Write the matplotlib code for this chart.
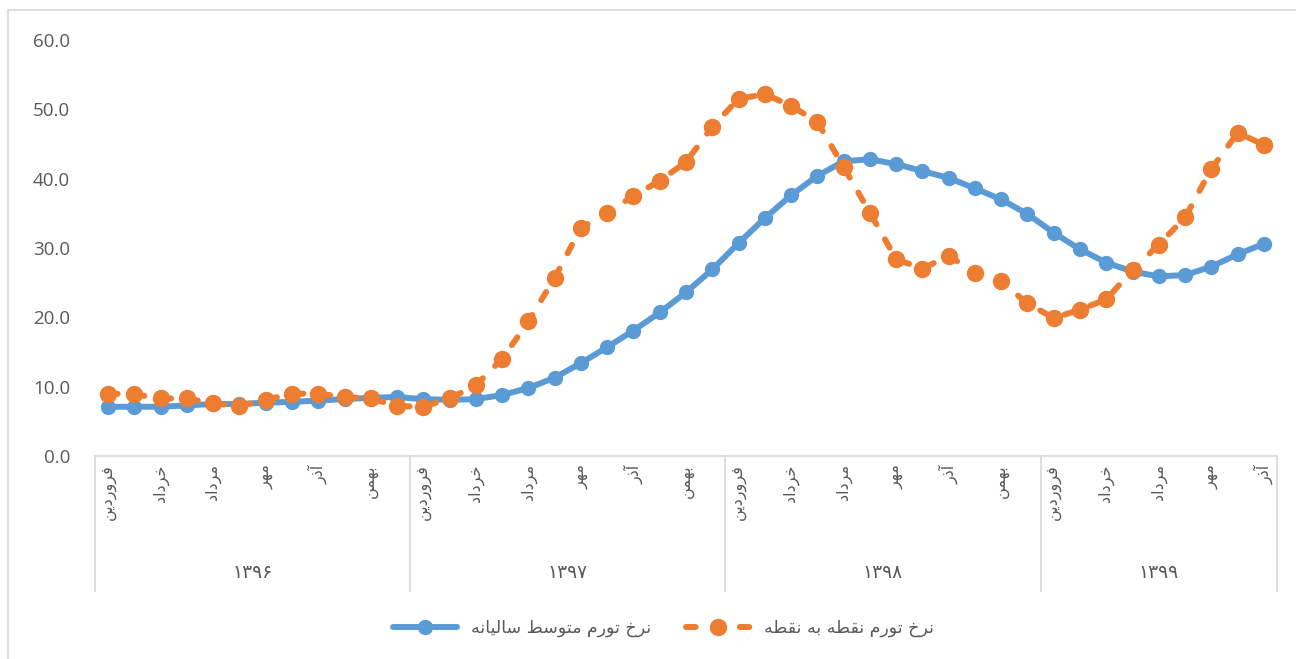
import matplotlib
matplotlib.use("Agg")
import matplotlib.pyplot as plt
from matplotlib.lines import Line2D
from matplotlib.transforms import blended_transform_factory
import numpy as np

# Monthly inflation, 1396 to Azar 1399
years = ["۱۳۹۶", "۱۳۹۷", "۱۳۹۸", "۱۳۹۹"]
months_per_year = [12, 12, 12, 9]
month_names = ["فروردین", "اردیبهشت", "خرداد", "تیر", "مرداد", "شهریور",
               "مهر", "آبان", "آذر", "دی", "بهمن", "اسفند"]

annual_avg = [7.1, 7.1, 7.1, 7.3, 7.5, 7.5, 7.7, 7.8, 8.0, 8.2, 8.4, 8.5,
              8.2, 8.1, 8.2, 8.8, 9.8, 11.3, 13.4, 15.7, 18.1, 20.7, 23.6, 26.9,
              30.7, 34.3, 37.6, 40.4, 42.5, 42.8, 42.1, 41.1, 40.1, 38.6, 37.0, 34.9,
              32.2, 29.8, 27.9, 26.6, 25.9, 26.1, 27.3, 29.1, 30.6]
point_to_point = [9.0, 8.9, 8.3, 8.3, 7.6, 7.2, 8.1, 9.0, 9.0, 8.5, 8.3, 7.2,
                  7.1, 8.3, 10.2, 14.0, 19.4, 25.7, 32.9, 35.1, 37.5, 39.7, 42.4, 47.5,
                  51.5, 52.2, 50.5, 48.2, 41.7, 35.1, 28.4, 27.0, 28.9, 26.4, 25.2, 22.0,
                  19.9, 21.1, 22.6, 26.8, 30.5, 34.4, 41.4, 46.6, 44.9]

label_avg = "نرخ تورم متوسط سالیانه"
label_p2p = "نرخ تورم نقطه به نقطه"

# matplotlib has no Arabic shaping, so pick contextual forms by hand
FORMS = {
    "ا": ("\uFE8D", "\uFE8E", None, None),
    "آ": ("\uFE81", "\uFE82", None, None),
    "ب": ("\uFE8F", "\uFE90", "\uFE91", "\uFE92"),
    "ت": ("\uFE95", "\uFE96", "\uFE97", "\uFE98"),
    "خ": ("\uFEA5", "\uFEA6", "\uFEA7", "\uFEA8"),
    "د": ("\uFEA9", "\uFEAA", None, None),
    "ذ": ("\uFEAB", "\uFEAC", None, None),
    "ر": ("\uFEAD", "\uFEAE", None, None),
    "س": ("\uFEB1", "\uFEB2", "\uFEB3", "\uFEB4"),
    "ط": ("\uFEC1", "\uFEC2", "\uFEC3", "\uFEC4"),
    "ف": ("\uFED1", "\uFED2", "\uFED3", "\uFED4"),
    "ق": ("\uFED5", "\uFED6", "\uFED7", "\uFED8"),
    "ل": ("\uFEDD", "\uFEDE", "\uFEDF", "\uFEE0"),
    "م": ("\uFEE1", "\uFEE2", "\uFEE3", "\uFEE4"),
    "ن": ("\uFEE5", "\uFEE6", "\uFEE7", "\uFEE8"),
    "ه": ("\uFEE9", "\uFEEA", "\uFEEB", "\uFEEC"),
    "و": ("\uFEED", "\uFEEE", None, None),
    "ی": ("\uFBFC", "\uFBFD", "\uFEF3", "\uFEF4"),
}


def shape(text):
    out = []
    for i, ch in enumerate(text):
        if ch not in FORMS:
            out.append(ch)
            continue
        prev = text[i - 1] if i > 0 else ""
        nxt = text[i + 1] if i + 1 < len(text) else ""
        join_prev = prev in FORMS and FORMS[prev][2] is not None
        join_next = nxt in FORMS and FORMS[ch][2] is not None
        iso, fin, ini, med = FORMS[ch]
        if join_prev and join_next:
            out.append(med)
        elif join_prev:
            out.append(fin)
        elif join_next:
            out.append(ini)
        else:
            out.append(iso)
    return "".join(out)[::-1]


BLUE = "#5B9BD5"
ORANGE = "#ED7D31"
GRAY = "#D9D9D9"
TEXT = "#595959"
FA_FONT = ["DejaVu Sans"]

fig = plt.figure(figsize=(12.96, 6.59), dpi=100)
ax = fig.add_axes([95 / 1296, 1 - 456 / 659, 1182 / 1296, 416 / 659])

x = np.arange(len(annual_avg))
ax.plot(x, annual_avg, color=BLUE, lw=4.3, marker="o", ms=10,
        solid_capstyle="round", label=shape(label_avg), zorder=3)
ax.plot(x, point_to_point, color=ORANGE, lw=4.3, marker="o", ms=11.5,
        linestyle=(0, (1.6, 2.9)), dash_capstyle="round",
        label=shape(label_p2p), zorder=4)

ax.set_xlim(-0.5, len(x) - 0.5)
ax.set_ylim(0, 60)
ax.set_yticks(np.arange(0, 61, 10))
ax.set_yticklabels([f"{v:.1f}" for v in np.arange(0, 61, 10)],
                   fontsize=13.5, color=TEXT, family="Open Sans")
ax.tick_params(axis="y", length=0, pad=18)

# month ticks: every other month within each year
tick_pos, tick_lab = [], []
start = 0
for n in months_per_year:
    for m in range(0, n, 2):
        tick_pos.append(start + m)
        tick_lab.append(shape(month_names[m]))
    start += n
ax.set_xticks(tick_pos)
ax.set_xticklabels(tick_lab, rotation=90, fontsize=11.5, color=TEXT,
                   family=FA_FONT, va="top")
ax.tick_params(axis="x", length=0, pad=6)

for side in ["top", "right", "left"]:
    ax.spines[side].set_visible(False)
ax.spines["bottom"].set_color(GRAY)
ax.spines["bottom"].set_linewidth(1.2)

# year groups below the month labels
trans = blended_transform_factory(ax.transData, ax.transAxes)
edges = np.concatenate([[0], np.cumsum(months_per_year)]) - 0.5
for e in edges:
    ax.plot([e, e], [0, -0.325], color=GRAY, lw=1.2, transform=trans,
            clip_on=False)
for yr, a, b in zip(years, edges[:-1], edges[1:]):
    ax.text((a + b) / 2, -0.281, yr, transform=trans, ha="center",
            va="center", fontsize=13.5, color=TEXT, family=FA_FONT)

leg = fig.legend(loc="center", bbox_to_anchor=(0.512, 1 - 628 / 659), ncol=2,
                 frameon=False, handlelength=3.7, columnspacing=2.0,
                 prop={"family": FA_FONT, "size": 12.5})
for t in leg.get_texts():
    t.set_color(TEXT)

# light outer frame
fig.add_artist(Line2D([8 / 1296, 1], [1 - 10 / 659, 1 - 10 / 659],
                      color=GRAY, lw=1.2, transform=fig.transFigure))
fig.add_artist(Line2D([8 / 1296, 8 / 1296], [0, 1 - 10 / 659],
                      color=GRAY, lw=1.2, transform=fig.transFigure))

fig.savefig("out.png", dpi=100)
